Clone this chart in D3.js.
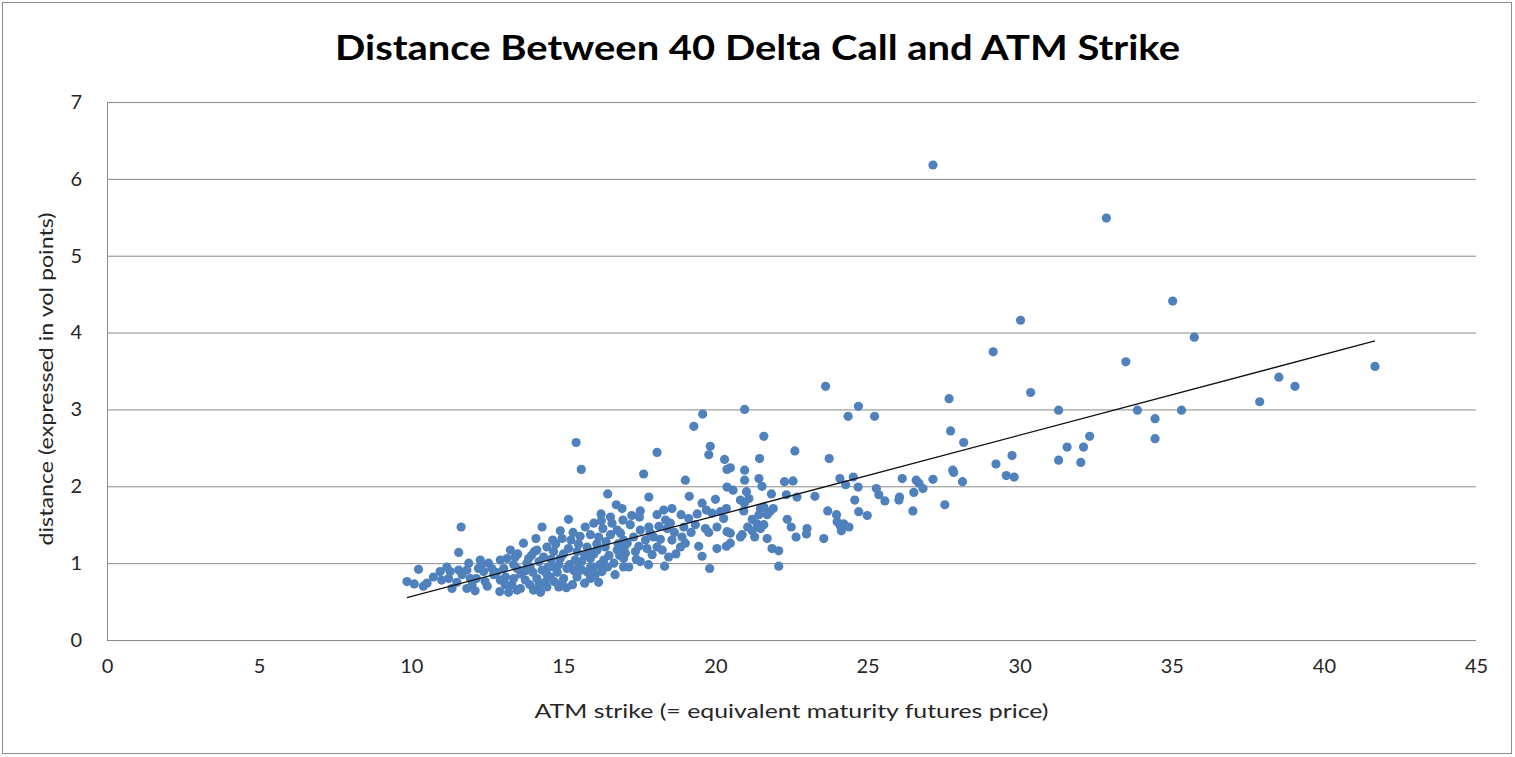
<!DOCTYPE html>
<html>
<head>
<meta charset="utf-8">
<script src="https://cdn.jsdelivr.net/npm/d3@7"></script>
<style>
  body { margin: 0; background: #fff; }
  text { font-family: Lato, "Open Sans", sans-serif; fill: #262626; }
  .grid line { stroke: #8a8a8a; stroke-width: 1; }
</style>
</head>
<body>
<div id="chart"></div>
<script>
// ******* Data: [ATM strike, distance in vol points] *******
var points = [
  // right side / outliers
  [27.15,6.18],[32.85,5.49],[35.03,4.41],[30.03,4.16],[29.13,3.75],[35.74,3.94],[33.49,3.62],[41.68,3.56],
  [38.52,3.42],[39.05,3.30],[37.89,3.10],[27.68,3.14],[30.36,3.22],[31.28,2.99],[33.87,2.99],[35.32,2.99],
  [34.45,2.88],[34.45,2.62],[27.73,2.72],[28.16,2.57],[32.30,2.65],[32.10,2.51],[31.56,2.51],[31.28,2.34],
  [32.01,2.31],[29.75,2.40],[29.22,2.29],[29.56,2.14],[29.82,2.12],[27.80,2.21],[27.83,2.18],[28.12,2.06],
  [27.15,2.09],[27.54,1.76],
  // 20 - 27
  [20.96,3.00],[24.70,3.04],[24.36,2.91],[25.23,2.91],[21.59,2.65],[22.61,2.46],[21.45,2.36],[23.74,2.36],
  [23.62,3.30],[20.49,2.24],[20.96,2.21],[20.96,2.08],[21.43,2.10],[21.53,2.00],[20.58,1.95],[21.02,1.93],
  [22.27,2.06],[22.55,2.07],[21.84,1.90],[22.33,1.89],[22.68,1.86],[23.27,1.87],[24.09,2.10],[24.53,2.12],
  [24.28,2.02],[24.69,1.99],[25.29,1.97],[25.37,1.89],[25.57,1.81],[24.58,1.82],[24.71,1.67],[24.99,1.62],
  [26.14,2.10],[26.60,2.08],[26.69,2.04],[26.82,1.97],[26.52,1.92],[26.05,1.86],[26.03,1.82],[26.49,1.68],
  [23.69,1.68],[23.98,1.63],[24.00,1.54],[24.11,1.48],[24.22,1.51],[24.39,1.47],[24.14,1.42],[23.56,1.32],
  [23.01,1.45],[22.99,1.38],[22.65,1.34],[22.49,1.47],[22.36,1.57],[21.86,1.19],[22.08,1.16],[22.08,0.96],
  [21.70,1.32],[20.88,1.37],[21.29,1.34],[21.21,1.42],[21.06,1.47],[21.48,1.45],[21.59,1.50],[21.21,1.57],
  [21.43,1.63],[21.70,1.63],[21.79,1.67],[21.90,1.71],[21.59,1.73],[20.93,1.68],[20.82,1.82],[20.95,1.78],
  [21.10,1.84],[21.48,1.71],[21.37,1.51],[20.49,1.39],[20.49,1.26],[20.82,1.34],
  // 17 - 20.5
  [18.08,2.44],[19.83,2.52],[19.78,2.41],[20.30,2.35],[20.38,2.22],[17.64,2.16],[19.01,2.08],[20.38,1.99],
  [17.81,1.86],[19.14,1.87],[19.56,1.78],[20.00,1.83],[16.93,1.71],[17.53,1.68],[18.30,1.69],[18.57,1.71],
  [18.87,1.63],[19.12,1.58],[19.40,1.64],[19.70,1.69],[19.89,1.65],[20.16,1.67],[20.36,1.71],[20.27,1.58],
  [17.50,1.60],[18.08,1.63],[18.36,1.56],[18.52,1.52],[16.96,1.56],[17.20,1.50],[17.53,1.43],[17.81,1.47],
  [18.14,1.48],[18.41,1.45],[18.96,1.47],[19.34,1.50],[19.67,1.45],[19.78,1.40],[20.05,1.47],[20.38,1.41],
  [16.88,1.39],[17.31,1.34],[17.70,1.30],[17.97,1.34],[18.19,1.31],[18.57,1.30],[18.90,1.34],[19.01,1.26],
  [18.85,1.21],[17.10,1.26],[17.48,1.22],[17.75,1.19],[18.08,1.21],[18.25,1.17],[17.04,1.13],[17.37,1.15],
  [17.92,1.11],[18.46,1.08],[20.05,1.19],[20.36,1.22],[19.56,1.09],[16.98,1.06],[17.53,1.02],[18.33,0.96],
  [17.15,0.95],[19.81,0.93],[15.42,2.57],[15.59,2.22],[19.58,2.94],[19.29,2.78],
  [17.25,1.62],[17.85,1.40],[18.65,1.40],[19.20,1.40],[19.45,1.22],[17.40,1.05],[17.80,0.98],[18.70,1.12],
  // 13 - 17
  [16.46,1.90],[16.74,1.76],[16.24,1.64],[16.55,1.60],[15.17,1.57],[14.30,1.47],[14.90,1.42],[15.32,1.40],
  [15.72,1.47],[16.00,1.52],[15.89,1.37],[16.16,1.34],[16.55,1.37],[16.77,1.43],[16.98,1.30],[14.96,1.32],
  [13.69,1.26],[13.26,1.17],[14.13,1.17],[14.46,1.21],[14.68,1.15],[15.17,1.19],[15.45,1.15],[15.78,1.21],
  [16.11,1.17],[16.38,1.21],[16.77,1.17],[13.42,1.08],[13.86,1.06],[14.35,1.08],[14.90,1.06],[15.39,1.04],
  [15.89,1.06],[16.33,1.04],[16.66,1.00],[16.98,0.95],[13.48,0.93],[13.91,0.95],[14.30,0.91],[14.68,0.95],
  [15.12,0.93],[15.61,0.91],[16.00,0.95],[16.27,0.89],[13.37,0.80],[13.75,0.78],[14.13,0.80],[14.57,0.82],
  [15.01,0.80],[15.45,0.82],[15.89,0.80],[13.59,0.67],[14.02,0.65],[14.46,0.69],[14.85,0.69],[16.16,0.75],
  [13.31,0.72],[13.50,1.12],[13.80,1.00],[14.00,0.88],[14.20,1.02],[14.40,0.75],[14.60,1.05],[14.80,0.88],
  [15.00,1.12],[15.20,0.98],[15.30,0.72],[15.50,1.25],[15.60,1.02],[15.80,0.88],[16.00,1.12],[16.20,0.98],
  [16.40,1.28],[16.50,1.10],[16.70,0.85],[16.80,1.25],[17.00,1.20],[13.60,0.86],[13.90,0.72],[14.25,0.62],
  [14.70,0.76],[15.10,0.68],[15.70,0.74],[14.05,1.15],[14.50,0.95],[15.35,0.90],[15.90,0.95],[14.10,1.32],
  [14.75,1.25],[15.55,1.35],[16.30,1.45],[16.60,1.52],
  [13.95,1.10],[14.45,0.86],[14.85,0.98],[15.25,1.30],[15.70,1.10],[16.10,1.25],[16.45,0.95],[16.85,1.10],
  [14.20,0.72],[14.95,0.74],[15.50,0.95],[16.05,0.85],[13.75,0.90],[14.65,1.30],[15.85,1.15],[16.25,1.55],
  // 9.8 - 13
  [11.64,1.47],[11.56,1.14],[10.24,0.92],[9.86,0.76],[10.10,0.73],[10.40,0.70],[10.52,0.74],[10.73,0.82],
  [10.95,0.89],[11.17,0.95],[11.28,0.89],[11.23,0.80],[11.56,0.91],[11.67,0.85],[11.89,1.00],[11.83,0.91],
  [11.94,0.80],[11.34,0.67],[11.83,0.67],[12.27,1.04],[12.21,0.93],[12.38,0.89],[12.14,0.80],[12.54,1.00],
  [12.65,0.93],[12.71,0.85],[12.43,0.76],[12.93,1.04],[13.04,0.93],[12.93,0.78],[12.91,0.63],[13.15,1.06],
  [13.37,0.98],[13.48,0.65],[13.09,0.72],[12.00,0.72],[12.50,0.70],[12.80,0.88],[13.10,0.82],[12.30,0.98],
  [11.50,0.75],[11.00,0.78],[12.10,0.64],[13.20,0.62]
];

var xTicks = [0, 5, 10, 15, 20, 25, 30, 35, 40, 45];
var yTicks = [0, 1, 2, 3, 4, 5, 6, 7];

// linear trendline
var trendSlope = 0.105;
var trendIntercept = -0.485;

var titleText = "Distance Between 40 Delta Call and ATM Strike";
var xTitle = "ATM strike (= equivalent maturity futures price)";
var yTitle = "distance (expressed in vol points)";

// ******* Chart set up *******
var w = 1515, h = 757;
var plotLeft = 107, plotRight = 1476, plotTop = 102, plotBottom = 640;

var svg = d3.select("#chart").append("svg").attr("width", w).attr("height", h);

svg.append("rect")
  .attr("x", 2.5).attr("y", 2.5)
  .attr("width", 1509).attr("height", 751)
  .attr("fill", "#fff")
  .attr("stroke", "#8c8c8c");

var x = d3.scaleLinear().domain([0, 45]).range([plotLeft, plotRight]);
var y = d3.scaleLinear().domain([0, 7]).range([plotBottom, plotTop]);

// ******* Gridlines + y labels *******
var yAxis = svg.append("g")
  .attr("class", "grid")
  .attr("transform", `translate(${plotLeft},0)`)
  .call(d3.axisLeft(y).tickValues(yTicks).tickFormat(d3.format("d"))
    .tickSize(-(plotRight - plotLeft)).tickPadding(25));
yAxis.select(".domain").remove();
yAxis.selectAll("text").style("font-size", "20px");

// left axis line
svg.append("line")
  .attr("x1", plotLeft + 0.5).attr("x2", plotLeft + 0.5)
  .attr("y1", y(7)).attr("y2", y(0))
  .attr("stroke", "#8a8a8a");

// ******* x labels *******
var xAxis = svg.append("g")
  .attr("transform", `translate(0,${plotBottom})`)
  .call(d3.axisBottom(x).tickValues(xTicks).tickSize(0).tickPadding(19));
xAxis.select(".domain").remove();
xAxis.selectAll("text").style("font-size", "20px");

// ******* Points *******
svg.append("g")
  .selectAll("circle")
  .data(points)
  .enter()
  .append("circle")
  .attr("cx", d => x(d[0]))
  .attr("cy", d => y(d[1]))
  .attr("r", 4.6)
  .attr("fill", "#4f81bd");

// ******* Trendline *******
var xExt = d3.extent(points, d => d[0]);
svg.append("line")
  .attr("x1", x(xExt[0])).attr("y1", y(trendIntercept + trendSlope * xExt[0]))
  .attr("x2", x(xExt[1])).attr("y2", y(trendIntercept + trendSlope * xExt[1]))
  .attr("stroke", "#111")
  .attr("stroke-width", 1.3);

// ******* Titles *******
svg.append("text")
  .attr("x", 757.5).attr("y", 60)
  .attr("text-anchor", "middle")
  .attr("textLength", 845).attr("lengthAdjust", "spacingAndGlyphs")
  .style("font-size", "35px").style("font-weight", "bold").style("fill", "#000")
  .text(titleText);

svg.append("text")
  .attr("x", (plotLeft + plotRight) / 2).attr("y", 718)
  .attr("text-anchor", "middle")
  .attr("textLength", 514).attr("lengthAdjust", "spacingAndGlyphs")
  .style("font-size", "19px")
  .text(xTitle);

svg.append("text")
  .attr("transform", `translate(53,${(plotTop + plotBottom) / 2 + 8}) rotate(-90)`)
  .attr("text-anchor", "middle")
  .attr("textLength", 333).attr("lengthAdjust", "spacingAndGlyphs")
  .style("font-size", "19px")
  .text(yTitle);
</script>
</body>
</html>
